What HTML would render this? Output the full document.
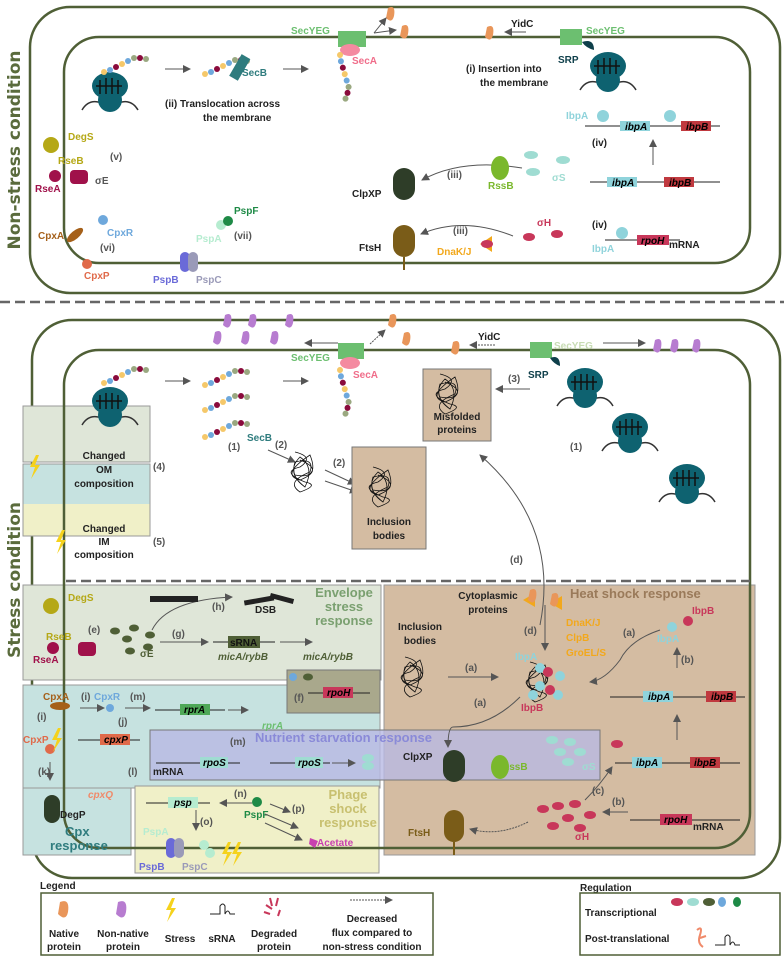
<!DOCTYPE html>
<html><head><meta charset="utf-8"><style>
html,body{margin:0;padding:0;background:#fff}
svg{display:block}
text{font-family:"Liberation Sans",sans-serif;font-weight:bold;font-size:10px}
</style></head><body>
<svg width="784" height="956" viewBox="0 0 784 956" xmlns="http://www.w3.org/2000/svg">
<defs>
<marker id="a" markerWidth="8" markerHeight="8" refX="7" refY="4" orient="auto"><path d="M0,0 L8,4 L0,8 z" fill="#555"/></marker>
<g id="rib"><path d="M-28,22 Q-22,12 -12,14 L12,14 Q22,12 28,22" fill="none" stroke="#333" stroke-width="1.5"/><circle cx="0" cy="12" r="12" fill="#0e6270"/><ellipse cx="0" cy="-2" rx="18" ry="14" fill="#0e6270"/><path d="M-10,-8 v14 M-4,-10 v16 M2,-10 v16 M8,-8 v14 M-14,-2 h26" stroke="#111" stroke-width="1.5" fill="none"/></g>
<g id="chain"><circle cx="0" cy="0" r="3" fill="#f5c86a"/><circle cx="6" cy="-2" r="3" fill="#6ea8dc"/><circle cx="12" cy="-5" r="3" fill="#8a0b3c"/><circle cx="18" cy="-8" r="3" fill="#f5c86a"/><circle cx="24" cy="-11" r="3" fill="#6ea8dc"/><circle cx="30" cy="-14" r="3" fill="#9aa880"/><circle cx="36" cy="-14" r="3" fill="#8a0b3c"/><circle cx="42" cy="-13" r="3" fill="#9aa880"/></g>
<g id="tangle" fill="none" stroke="#111" stroke-width="0.8"><path d="M-15,-18 q20,5 5,15 q-20,5 5,15 q15,3 -5,10 q-15,-10 10,-20 q5,-15 -15,-10 q-5,15 10,25 q10,-20 -5,-30 q-15,15 5,30"/><path d="M-10,-10 q25,10 0,20 q-20,-5 10,-25 q10,25 -15,20"/></g>
</defs>

<!-- side labels -->
<text transform="translate(20,150) rotate(-90)" text-anchor="middle" style="font-size:17px;fill:#5a6b3c;font-family:'DejaVu Sans',sans-serif">Non-stress condition</text>
<text transform="translate(20,580) rotate(-90)" text-anchor="middle" style="font-size:17px;fill:#5a6b3c;font-family:'DejaVu Sans',sans-serif">Stress condition</text>

<!-- NON-STRESS cell -->
<rect x="30" y="7" width="750" height="286" rx="40" fill="none" stroke="#4f5f36" stroke-width="2.5"/>
<rect x="64" y="37" width="686" height="226" rx="35" fill="none" stroke="#4f5f36" stroke-width="2.5"/>
<use href="#rib" x="110" y="88"/>
<use href="#chain" x="104" y="72"/>
<line x1="165" y1="69" x2="190" y2="69" stroke="#555" marker-end="url(#a)"/>
<use href="#chain" x="205" y="74"/>
<rect x="235" y="55" width="10" height="25" fill="#2f7c7e" transform="rotate(30 240 67)"/>
<text x="242" y="76" fill="#2f7c7e">SecB</text>
<line x1="283" y1="69" x2="308" y2="69" stroke="#555" marker-end="url(#a)"/>
<text x="165" y="107" fill="#222">(ii) Translocation across</text><text x="203" y="121" fill="#222">the membrane</text>
<rect x="338" y="31" width="28" height="16" fill="#6cbf70"/><ellipse cx="350" cy="50" rx="10" ry="6" fill="#f48aa0"/>
<text x="291" y="34" fill="#6cbf70">SecYEG</text><text x="352" y="64" fill="#f06d8a">SecA</text>
<g transform="translate(340,55) rotate(100)"><use href="#chain"/></g>
<path d="M388,8 q8,-4 6,8 q-2,8 -8,2z" fill="#e9965a"/><path d="M402,26 q8,-4 6,8 q-2,8 -8,2z" fill="#e9965a"/>
<line x1="374" y1="33" x2="386" y2="18" stroke="#555" marker-end="url(#a)"/><line x1="374" y1="33" x2="396" y2="30" stroke="#555" marker-end="url(#a)"/>
<text x="511" y="27" fill="#222">YidC</text><line x1="526" y1="32" x2="505" y2="32" stroke="#555" marker-end="url(#a)"/>
<path d="M487,27 q8,-4 6,8 q-2,8 -8,2z" fill="#e9965a"/>
<rect x="560" y="29" width="22" height="16" fill="#6cbf70"/><text x="586" y="34" fill="#6cbf70">SecYEG</text>
<path d="M582,42 q12,-4 12,8 q-8,-2 -12,-8z" fill="#0e3f4a"/><text x="558" y="63" fill="#0e3f4a">SRP</text>
<use href="#rib" x="608" y="68"/>
<text x="466" y="72" fill="#222">(i) Insertion into</text><text x="480" y="86" fill="#222">the membrane</text>
<!-- ibp -->
<text x="566" y="119" fill="#8fd3db">IbpA</text>
<line x1="585" y1="126" x2="720" y2="126" stroke="#222"/>
<rect x="620" y="121" width="30" height="10" fill="#8fd3db"/><text x="625" y="130" style="font-style:italic">ibpA</text>
<rect x="681" y="121" width="30" height="10" fill="#c0393f"/><text x="686" y="130" style="font-style:italic">ibpB</text>
<circle cx="603" cy="116" r="6" fill="#8fd3db"/><circle cx="670" cy="116" r="6" fill="#8fd3db"/>
<text x="592" y="146" fill="#222">(iv)</text>
<line x1="653" y1="165" x2="653" y2="140" stroke="#555" marker-end="url(#a)"/>
<line x1="590" y1="182" x2="720" y2="182" stroke="#222"/>
<rect x="607" y="177" width="30" height="10" fill="#8fd3db"/><text x="612" y="186" style="font-style:italic">ibpA</text>
<rect x="664" y="177" width="30" height="10" fill="#c0393f"/><text x="669" y="186" style="font-style:italic">ibpB</text>
<text x="592" y="228" fill="#222">(iv)</text>
<line x1="605" y1="240" x2="680" y2="240" stroke="#222"/>
<rect x="637" y="235" width="32" height="10" fill="#c8375a"/><text x="641" y="244" style="font-style:italic">rpoH</text>
<text x="669" y="248" fill="#222">mRNA</text>
<circle cx="622" cy="233" r="6" fill="#8fd3db"/><text x="592" y="252" fill="#8fd3db">IbpA</text>
<!-- ClpXP FtsH -->
<rect x="393" y="168" width="22" height="32" rx="11" fill="#2e3d28"/><text x="352" y="197" fill="#222">ClpXP</text>
<rect x="393" y="225" width="22" height="32" rx="11" fill="#7a5c18"/><line x1="404" y1="257" x2="404" y2="270" stroke="#7a5c18" stroke-width="2"/><text x="359" y="251" fill="#222">FtsH</text>
<path d="M522,168 q-60,-10 -100,12" fill="none" stroke="#555" marker-end="url(#a)"/><text x="447" y="178" fill="#555">(iii)</text>
<ellipse cx="500" cy="168" rx="9" ry="12" fill="#7ab82c"/><text x="488" y="189" fill="#7ab82c">RssB</text>
<ellipse cx="531" cy="155" rx="7" ry="4" fill="#9fdcd2"/><ellipse cx="533" cy="172" rx="7" ry="4" fill="#9fdcd2"/><ellipse cx="563" cy="160" rx="7" ry="4" fill="#9fdcd2"/><text x="552" y="181" fill="#9fdcd2">σS</text>
<path d="M513,236 q-50,-20 -92,-2" fill="none" stroke="#555" marker-end="url(#a)"/><text x="453" y="234" fill="#555">(iii)</text>
<path d="M480,244 l12,-8 v16z" fill="#f2a81c"/><text x="437" y="255" fill="#f2a81c">DnaK/J</text>
<ellipse cx="487" cy="244" rx="6" ry="4" fill="#c8375a"/><ellipse cx="529" cy="237" rx="6" ry="4" fill="#c8375a"/><ellipse cx="557" cy="234" rx="6" ry="4" fill="#c8375a"/><text x="537" y="226" fill="#c8375a">σH</text>
<!-- left -->
<circle cx="51" cy="145" r="8" fill="#b5a816"/><text x="68" y="140" fill="#b5a816">DegS</text><text x="58" y="164" fill="#b5a816">RseB</text>
<circle cx="55" cy="176" r="6" fill="#a0114a"/><rect x="70" y="170" width="18" height="14" rx="4" fill="#a0114a"/><text x="35" y="192" fill="#a0114a">RseA</text><text x="95" y="184" fill="#555">σE</text><text x="110" y="160" fill="#555">(v)</text>
<ellipse cx="75" cy="235" rx="10" ry="4" fill="#a5601a" transform="rotate(-40 75 235)"/><text x="38" y="239" fill="#a5601a">CpxA</text>
<circle cx="87" cy="264" r="5" fill="#e06a4a"/><text x="84" y="279" fill="#e06a4a">CpxP</text>
<circle cx="103" cy="220" r="5" fill="#6ea8dc"/><text x="107" y="236" fill="#6ea8dc">CpxR</text><text x="100" y="251" fill="#555">(vi)</text>
<circle cx="221" cy="225" r="5" fill="#b6ecd0"/><circle cx="228" cy="221" r="5" fill="#1e8a46"/><text x="234" y="214" fill="#1e8a46">PspF</text><text x="196" y="242" fill="#b6ecd0">PspA</text><text x="234" y="239" fill="#555">(vii)</text>
<rect x="180" y="252" width="10" height="20" rx="5" fill="#6a6ad8"/><rect x="188" y="252" width="10" height="20" rx="5" fill="#9a9ab8"/><text x="153" y="283" fill="#6a6ad8">PspB</text><text x="196" y="283" fill="#9a9ab8">PspC</text>

<!-- dashed -->
<line x1="0" y1="302" x2="784" y2="302" stroke="#666" stroke-width="2.5" stroke-dasharray="10,5"/>

<!-- STRESS cell -->
<rect x="32" y="320" width="748" height="558" rx="40" fill="none" stroke="#4f5f36" stroke-width="2.5"/>
<!-- boxes -->
<rect x="23" y="406" width="127" height="56" fill="#dfe6d8" stroke="#999"/>
<rect x="23" y="464" width="127" height="40" fill="#c6e2e0" stroke="none"/>
<rect x="23" y="504" width="127" height="32" fill="#f0f0c8" stroke="none"/>
<rect x="23" y="464" width="127" height="72" fill="none" stroke="#999"/>
<rect x="23" y="585" width="358" height="95" fill="#dfe6d8" stroke="#999"/>
<rect x="23" y="685" width="108" height="170" fill="#c6e2e0" stroke="#999"/>
<rect x="23" y="685" width="357" height="103" fill="#c6e2e0" stroke="#999"/>
<rect x="384" y="585" width="371" height="270" fill="#d4bca2" stroke="#999"/>
<rect x="135" y="786" width="244" height="87" fill="#f0f0c8" stroke="#999"/>
<rect x="287" y="670" width="93" height="43" fill="#a9a88c" stroke="#777"/>
<rect x="150" y="730" width="450" height="50" fill="#b8b9e4" fill-opacity="0.8" stroke="#777"/>
<rect x="64" y="350" width="686" height="498" rx="35" fill="none" stroke="#4f5f36" stroke-width="2.5"/>
<line x1="66" y1="581" x2="750" y2="581" stroke="#666" stroke-width="2.5" stroke-dasharray="10,5"/>
<text x="104" y="460" text-anchor="middle" fill="#222"><tspan x="104" y="459">Changed</tspan><tspan x="104" y="473">OM</tspan><tspan x="104" y="487">composition</tspan></text>
<text x="104" y="532" fill="#222" text-anchor="middle"><tspan x="104" y="532">Changed</tspan><tspan x="104" y="545">IM</tspan><tspan x="104" y="558">composition</tspan></text>
<text x="153" y="470" fill="#555">(4)</text><text x="153" y="545" fill="#555">(5)</text>
<path d="M36,455 l-6,12 h5 l-4,12 l9,-14 h-5 l4,-10z" fill="#f5d21c"/>
<path d="M62,530 l-6,12 h5 l-4,12 l9,-14 h-5 l4,-10z" fill="#f5d21c"/>
<!-- top stress content -->
<g fill="#b77cd0"><path d="M225,315 q8,-4 6,8 q-2,8 -8,2z"/><path d="M250,315 q8,-4 6,8 q-2,8 -8,2z"/><path d="M287,315 q8,-4 6,8 q-2,8 -8,2z"/><path d="M215,332 q8,-4 6,8 q-2,8 -8,2z"/><path d="M243,332 q8,-4 6,8 q-2,8 -8,2z"/><path d="M272,332 q8,-4 6,8 q-2,8 -8,2z"/><path d="M655,340 q8,-4 6,8 q-2,8 -8,2z"/><path d="M672,340 q8,-4 6,8 q-2,8 -8,2z"/><path d="M694,340 q8,-4 6,8 q-2,8 -8,2z"/></g>
<g fill="#e9965a"><path d="M390,315 q8,-4 6,8 q-2,8 -8,2z"/><path d="M404,333 q8,-4 6,8 q-2,8 -8,2z"/><path d="M453,342 q8,-4 6,8 q-2,8 -8,2z"/></g>
<line x1="338" y1="343" x2="305" y2="343" stroke="#555" marker-end="url(#a)"/>
<line x1="370" y1="344" x2="385" y2="330" stroke="#555" stroke-dasharray="2,1" marker-end="url(#a)"/>
<rect x="338" y="343" width="26" height="16" fill="#6cbf70"/><ellipse cx="350" cy="363" rx="10" ry="6" fill="#f48aa0"/>
<text x="291" y="361" fill="#6cbf70">SecYEG</text><text x="353" y="378" fill="#f06d8a">SecA</text>
<g transform="translate(340,370) rotate(100)"><use href="#chain"/></g>
<text x="478" y="340" fill="#222">YidC</text><line x1="495" y1="345" x2="470" y2="345" stroke="#555" stroke-dasharray="2,1" marker-end="url(#a)"/>
<rect x="530" y="342" width="22" height="16" fill="#6cbf70"/><text x="554" y="349" fill="#c8dcb4">SecYEG</text>
<line x1="603" y1="343" x2="645" y2="343" stroke="#555" marker-end="url(#a)"/>
<path d="M550,358 q10,-4 10,8 q-6,-2 -10,-8z" fill="#0e3f4a"/><text x="528" y="378" fill="#0e3f4a">SRP</text>
<use href="#rib" x="585" y="384"/><use href="#rib" x="630" y="429"/><use href="#rib" x="687" y="480"/>
<use href="#rib" x="110" y="403"/><use href="#chain" x="104" y="383"/>
<line x1="165" y1="381" x2="190" y2="381" stroke="#555" marker-end="url(#a)"/>
<use href="#chain" x="205" y="385"/><use href="#chain" x="205" y="410"/><use href="#chain" x="205" y="437"/>
<text x="247" y="441" fill="#2f7c7e">SecB</text><text x="228" y="450" fill="#555">(1)</text><text x="275" y="448" fill="#555">(2)</text>
<line x1="283" y1="381" x2="308" y2="381" stroke="#555" marker-end="url(#a)"/>
<line x1="268" y1="450" x2="295" y2="462" stroke="#555" marker-end="url(#a)"/>
<use href="#tangle" x="310" y="470"/>
<line x1="325" y1="470" x2="355" y2="484" stroke="#555" marker-end="url(#a)"/><line x1="325" y1="481" x2="357" y2="492" stroke="#555" marker-end="url(#a)"/><text x="333" y="466" fill="#555">(2)</text>
<rect x="352" y="447" width="74" height="102" fill="#d4bca2" stroke="#777"/>
<use href="#tangle" x="388" y="485"/>
<text x="389" y="525" text-anchor="middle" fill="#222"><tspan x="389" y="525">Inclusion</tspan><tspan x="389" y="539">bodies</tspan></text>
<rect x="423" y="369" width="68" height="72" fill="#d4bca2" stroke="#777"/>
<use href="#tangle" x="455" y="392"/>
<text x="457" y="420" text-anchor="middle" fill="#222"><tspan x="457" y="420">Misfolded</tspan><tspan x="457" y="433">proteins</tspan></text>
<line x1="530" y1="389" x2="496" y2="389" stroke="#555" marker-end="url(#a)"/><text x="508" y="382" fill="#555">(3)</text>
<text x="570" y="450" fill="#555">(1)</text>
<path d="M540,625 q20,-100 -60,-170" fill="none" stroke="#555" marker-end="url(#a)"/><text x="510" y="563" fill="#555">(d)</text>
<!-- Envelope stress -->
<text x="344" y="596" text-anchor="middle" fill="#7aa070" style="font-size:13px"><tspan x="344" y="597">Envelope</tspan><tspan x="344" y="611">stress</tspan><tspan x="344" y="625">response</tspan></text>
<circle cx="51" cy="606" r="8" fill="#b5a816"/><text x="68" y="601" fill="#b5a816">DegS</text><text x="46" y="640" fill="#b5a816">RseB</text>
<circle cx="53" cy="648" r="6" fill="#a0114a"/><rect x="78" y="642" width="18" height="14" rx="4" fill="#a0114a"/><text x="33" y="663" fill="#a0114a">RseA</text>
<text x="88" y="633" fill="#555">(e)</text>
<g fill="#4f5f36"><ellipse cx="115" cy="631" rx="5" ry="3.5"/><ellipse cx="134" cy="628" rx="5" ry="3.5"/><ellipse cx="127" cy="639" rx="5" ry="3.5"/><ellipse cx="150" cy="635" rx="5" ry="3.5"/><ellipse cx="130" cy="651" rx="5" ry="3.5"/><ellipse cx="148" cy="647" rx="5" ry="3.5"/></g>
<text x="140" y="657" fill="#4f5f36">σE</text>
<path d="M152,630 q15,-30 80,-33" fill="none" stroke="#555" marker-end="url(#a)"/><text x="212" y="610" fill="#555">(h)</text>
<rect x="150" y="596" width="48" height="6" fill="#222"/><rect x="244" y="598" width="30" height="5" fill="#222" transform="rotate(-10 259 600)"/><rect x="270" y="596" width="24" height="5" fill="#222" transform="rotate(15 282 598)"/><text x="255" y="613" fill="#222">DSB</text>
<line x1="160" y1="642" x2="208" y2="642" stroke="#555" marker-end="url(#a)"/><text x="172" y="637" fill="#555">(g)</text>
<line x1="213" y1="642" x2="275" y2="642" stroke="#222"/><rect x="228" y="636" width="32" height="12" fill="#4f5f36"/><text x="230" y="646" fill="#111">sRNA</text>
<line x1="280" y1="642" x2="312" y2="642" stroke="#555" marker-end="url(#a)"/>
<text x="218" y="660" fill="#4f5f36" style="font-style:italic">micA/rybB</text><text x="303" y="660" fill="#4f5f36" style="font-style:italic">micA/rybB</text>
<!-- f box -->
<circle cx="293" cy="677" r="4" fill="#6ea8dc"/><ellipse cx="308" cy="677" rx="5" ry="3.5" fill="#4f5f36"/><text x="294" y="701" fill="#555">(f)</text>
<line x1="308" y1="693" x2="370" y2="693" stroke="#222"/><rect x="323" y="687" width="30" height="11" fill="#c8375a"/><text x="327" y="696" style="font-style:italic">rpoH</text>
<!-- Cpx -->
<ellipse cx="60" cy="706" rx="10" ry="4" fill="#a5601a"/><text x="43" y="700" fill="#a5601a">CpxA</text>
<text x="81" y="700" fill="#555">(i)</text><text x="94" y="700" fill="#6ea8dc">CpxR</text><circle cx="110" cy="708" r="4" fill="#6ea8dc"/><text x="130" y="700" fill="#555">(m)</text>
<line x1="80" y1="708" x2="104" y2="708" stroke="#555" marker-end="url(#a)"/><line x1="125" y1="708" x2="150" y2="708" stroke="#555" marker-end="url(#a)"/>
<line x1="155" y1="710" x2="225" y2="710" stroke="#222"/><rect x="180" y="704" width="30" height="11" fill="#4fa858"/><text x="184" y="713" style="font-style:italic">rprA</text>
<line x1="228" y1="710" x2="248" y2="710" stroke="#555" marker-end="url(#a)"/>
<text x="262" y="729" fill="#6cbf70" style="font-style:italic">rprA</text>
<text x="37" y="720" fill="#555">(i)</text><text x="118" y="725" fill="#555">(j)</text>
<text x="23" y="743" fill="#e06a4a">CpxP</text><circle cx="50" cy="749" r="5" fill="#e06a4a"/>
<line x1="78" y1="740" x2="140" y2="740" stroke="#222"/><rect x="100" y="734" width="30" height="11" fill="#e06a4a"/><text x="104" y="743" style="font-style:italic">cpxP</text>
<path d="M58,728 l-6,12 h5 l-4,12 l9,-14 h-5 l4,-10z" fill="#f5d21c"/>
<text x="38" y="775" fill="#555">(k)</text><line x1="50" y1="762" x2="50" y2="780" stroke="#555" marker-end="url(#a)"/>
<rect x="44" y="795" width="16" height="28" rx="8" fill="#2e3d28"/><text x="60" y="818" fill="#222">DegP</text>
<text x="128" y="775" fill="#555">(l)</text><text x="88" y="798" fill="#f08a6a" style="font-style:italic">cpxQ</text>
<text x="65" y="836" fill="#2f7c7e" style="font-size:13px">Cpx</text><text x="50" y="850" fill="#2f7c7e" style="font-size:13px">response</text>
<!-- nutrient -->
<text x="255" y="742" fill="#8a8ad8" style="font-size:13px">Nutrient starvation response</text>
<text x="230" y="745" fill="#555">(m)</text>
<line x1="156" y1="763" x2="240" y2="763" stroke="#222"/><rect x="200" y="757" width="28" height="11" fill="#9fdcd2"/><text x="203" y="766" style="font-style:italic">rpoS</text><text x="153" y="775" fill="#222">mRNA</text>
<line x1="270" y1="763" x2="330" y2="763" stroke="#222"/><rect x="295" y="757" width="28" height="11" fill="#9fdcd2"/><text x="298" y="766" style="font-style:italic">rpoS</text>
<line x1="332" y1="763" x2="355" y2="763" stroke="#555" marker-end="url(#a)"/>
<ellipse cx="368" cy="758" rx="6" ry="4" fill="#9fdcd2"/><ellipse cx="368" cy="766" rx="6" ry="4" fill="#9fdcd2"/>
<!-- phage -->
<text x="348" y="799" text-anchor="middle" fill="#c8c070" style="font-size:13px"><tspan x="348" y="799">Phage</tspan><tspan x="348" y="813">shock</tspan><tspan x="348" y="827">response</tspan></text>
<line x1="146" y1="803" x2="210" y2="803" stroke="#222"/><rect x="168" y="797" width="30" height="11" fill="#b6ecd0"/><text x="174" y="806" style="font-style:italic">psp</text>
<line x1="252" y1="803" x2="220" y2="803" stroke="#555" marker-end="url(#a)"/><text x="234" y="797" fill="#555">(n)</text>
<circle cx="257" cy="802" r="5" fill="#1e8a46"/><text x="244" y="818" fill="#1e8a46">PspF</text>
<line x1="270" y1="804" x2="290" y2="812" stroke="#555" marker-end="url(#a)"/><text x="292" y="812" fill="#555">(p)</text>
<line x1="265" y1="814" x2="298" y2="828" stroke="#555" marker-end="url(#a)"/><line x1="265" y1="823" x2="302" y2="840" stroke="#555" marker-end="url(#a)"/>
<path d="M310,838 l8,3 l-3,7 l-6,-4z" fill="#c840b0"/><text x="317" y="846" fill="#c840b0">Acetate</text>
<line x1="196" y1="810" x2="196" y2="830" stroke="#555" marker-end="url(#a)"/><text x="200" y="825" fill="#555">(o)</text>
<text x="143" y="835" fill="#b6ecd0">PspA</text>
<rect x="166" y="838" width="10" height="20" rx="5" fill="#6a6ad8"/><rect x="174" y="838" width="10" height="20" rx="5" fill="#9a9ab8"/><circle cx="204" cy="845" r="5" fill="#b6ecd0"/><circle cx="210" cy="853" r="5" fill="#b6ecd0"/>
<text x="139" y="870" fill="#6a6ad8">PspB</text><text x="182" y="870" fill="#9a9ab8">PspC</text>
<path d="M228,842 l-6,12 h5 l-4,12 l9,-14 h-5 l4,-10z" fill="#f5d21c"/><path d="M238,842 l-6,12 h5 l-4,12 l9,-14 h-5 l4,-10z" fill="#f5d21c"/>
<!-- heat shock -->
<text x="570" y="598" fill="#9a7a5a" style="font-size:13px">Heat shock response</text>
<text x="488" y="599" text-anchor="middle" fill="#222"><tspan x="488" y="599">Cytoplasmic</tspan><tspan x="488" y="613">proteins</tspan></text>
<text x="420" y="630" text-anchor="middle" fill="#222"><tspan x="420" y="630">Inclusion</tspan><tspan x="420" y="644">bodies</tspan></text>
<use href="#tangle" x="420" y="675"/>
<line x1="448" y1="677" x2="498" y2="677" stroke="#555" marker-end="url(#a)"/><text x="465" y="671" fill="#555">(a)</text>
<line x1="545" y1="605" x2="545" y2="650" stroke="#555" marker-end="url(#a)"/><text x="524" y="634" fill="#555">(d)</text>
<path d="M523,600 l12,-7 v14z" fill="#f2a81c"/><path d="M550,603 l12,-7 v14z" fill="#f2a81c"/>
<path d="M530,590 q8,-4 6,8 q-2,8 -8,2z" fill="#e9965a"/><path d="M552,594 q8,-4 6,8 q-2,8 -8,2z" fill="#e9965a"/>
<text x="566" y="626" fill="#f2a81c"><tspan x="566" y="626">DnaK/J</tspan><tspan x="566" y="641">ClpB</tspan><tspan x="566" y="656">GroEL/S</tspan></text>
<text x="515" y="660" fill="#8fd3db">IbpA</text>
<use href="#tangle" x="545" y="680"/>
<g><circle cx="540" cy="668" r="5" fill="#8fd3db"/><circle cx="560" cy="676" r="5" fill="#8fd3db"/><circle cx="540" cy="686" r="5" fill="#8fd3db"/><circle cx="558" cy="695" r="5" fill="#8fd3db"/><circle cx="548" cy="672" r="5" fill="#c8375a"/><circle cx="550" cy="690" r="5" fill="#c8375a"/><circle cx="533" cy="695" r="5" fill="#8fd3db"/></g>
<text x="521" y="711" fill="#c8375a">IbpB</text>
<path d="M520,697 q-30,30 -67,30 q-5,0 -5,20" fill="none" stroke="#555" marker-end="url(#a)"/><text x="474" y="706" fill="#555">(a)</text>
<path d="M660,630 q-30,10 -40,30 q-15,20 -30,22" fill="none" stroke="#555" marker-end="url(#a)"/><text x="623" y="636" fill="#555">(a)</text>
<circle cx="672" cy="627" r="5" fill="#8fd3db"/><circle cx="688" cy="621" r="5" fill="#c8375a"/><text x="657" y="642" fill="#8fd3db">IbpA</text><text x="692" y="614" fill="#c8375a">IbpB</text>
<line x1="677" y1="668" x2="677" y2="648" stroke="#555" marker-end="url(#a)"/><text x="681" y="663" fill="#555">(b)</text>
<line x1="610" y1="697" x2="745" y2="697" stroke="#222"/><rect x="643" y="691" width="30" height="11" fill="#8fd3db"/><text x="648" y="700" style="font-style:italic">ibpA</text><rect x="706" y="691" width="30" height="11" fill="#c0393f"/><text x="711" y="700" style="font-style:italic">ibpB</text>
<line x1="677" y1="740" x2="677" y2="715" stroke="#555" marker-end="url(#a)"/>
<line x1="615" y1="763" x2="740" y2="763" stroke="#222"/><rect x="632" y="757" width="30" height="11" fill="#8fd3db"/><text x="636" y="766" style="font-style:italic">ibpA</text><rect x="690" y="757" width="30" height="11" fill="#c0393f"/><text x="694" y="766" style="font-style:italic">ibpB</text>
<ellipse cx="617" cy="744" rx="6" ry="4" fill="#c8375a"/>
<rect x="443" y="750" width="22" height="32" rx="11" fill="#2e3d28"/><text x="403" y="760" fill="#222">ClpXP</text>
<ellipse cx="500" cy="767" rx="9" ry="12" fill="#7ab82c"/><text x="502" y="770" fill="#7ab82c">RssB</text>
<g fill="#9fdcd2"><ellipse cx="552" cy="740" rx="6" ry="4"/><ellipse cx="570" cy="742" rx="6" ry="4"/><ellipse cx="560" cy="752" rx="6" ry="4"/><ellipse cx="580" cy="752" rx="6" ry="4"/><ellipse cx="568" cy="762" rx="6" ry="4"/></g><text x="582" y="770" fill="#9fdcd2">σS</text>
<rect x="444" y="810" width="20" height="32" rx="10" fill="#7a5c18"/><line x1="454" y1="842" x2="454" y2="855" stroke="#7a5c18" stroke-width="2"/><text x="408" y="836" fill="#7a5c18">FtsH</text>
<path d="M528,822 q-30,15 -58,7" fill="none" stroke="#555" stroke-dasharray="2,1" marker-end="url(#a)"/>
<g fill="#c8375a"><ellipse cx="543" cy="809" rx="6" ry="4"/><ellipse cx="558" cy="806" rx="6" ry="4"/><ellipse cx="575" cy="804" rx="6" ry="4"/><ellipse cx="568" cy="818" rx="6" ry="4"/><ellipse cx="590" cy="815" rx="6" ry="4"/><ellipse cx="553" cy="826" rx="6" ry="4"/><ellipse cx="580" cy="828" rx="6" ry="4"/></g><text x="575" y="840" fill="#c8375a">σH</text>
<path d="M585,800 q15,-15 27,-33" fill="none" stroke="#555" marker-end="url(#a)"/><text x="592" y="794" fill="#555">(c)</text>
<line x1="628" y1="812" x2="603" y2="812" stroke="#555" marker-end="url(#a)"/><text x="612" y="805" fill="#555">(b)</text>
<line x1="630" y1="820" x2="740" y2="820" stroke="#222"/><rect x="660" y="814" width="32" height="11" fill="#c8375a"/><text x="664" y="823" style="font-style:italic">rpoH</text><text x="693" y="830" fill="#222">mRNA</text>
<!-- legends -->
<text x="40" y="889" fill="#222">Legend</text>
<rect x="41" y="893" width="392" height="62" fill="#fff" stroke="#4f5f36" stroke-width="1.5"/>
<path d="M60,902 q10,-4 8,10 q-2,10 -10,2z" fill="#e9965a"/><text x="64" y="937" text-anchor="middle" fill="#222"><tspan x="64" y="937">Native</tspan><tspan x="64" y="950">protein</tspan></text>
<path d="M118,902 q10,-4 8,10 q-2,10 -10,2z" fill="#b77cd0"/><text x="123" y="937" text-anchor="middle" fill="#222"><tspan x="123" y="937">Non-native</tspan><tspan x="123" y="950">protein</tspan></text>
<path d="M172,898 l-6,12 h5 l-4,12 l9,-14 h-5 l4,-10z" fill="#f5d21c"/><text x="180" y="942" text-anchor="middle" fill="#222">Stress</text>
<path d="M210,914 h10 v-8 q3,-4 5,0 v8 q3,-6 5,0 h5" fill="none" stroke="#222"/><text x="222" y="942" text-anchor="middle" fill="#222">sRNA</text>
<path d="M266,905 l6,4 M270,898 l2,8 M278,898 l-2,8 M264,912 l6,2 M280,910 l-2,6" stroke="#c8375a" stroke-width="2"/><text x="274" y="937" text-anchor="middle" fill="#222"><tspan x="274" y="937">Degraded</tspan><tspan x="274" y="950">protein</tspan></text>
<line x1="350" y1="900" x2="392" y2="900" stroke="#555" stroke-dasharray="2,1" marker-end="url(#a)"/>
<text x="372" y="922" text-anchor="middle" fill="#222"><tspan x="372" y="922">Decreased</tspan><tspan x="372" y="936">flux compared to</tspan><tspan x="372" y="950">non-stress condition</tspan></text>
<text x="580" y="891" fill="#222">Regulation</text>
<rect x="580" y="893" width="200" height="62" fill="#fff" stroke="#4f5f36" stroke-width="1.5"/>
<text x="585" y="916" fill="#222">Transcriptional</text><text x="585" y="942" fill="#222">Post-translational</text>
<ellipse cx="677" cy="902" rx="6" ry="4" fill="#c8375a"/><ellipse cx="693" cy="902" rx="6" ry="4" fill="#9fdcd2"/><ellipse cx="709" cy="902" rx="6" ry="4" fill="#4f5f36"/><ellipse cx="722" cy="902" rx="4" ry="5" fill="#6ea8dc"/><ellipse cx="737" cy="902" rx="4" ry="5" fill="#1e8a46"/>
<path d="M697,930 q6,-5 3,5 q-3,8 3,12 M700,938 l6,-2" fill="none" stroke="#f08a6a" stroke-width="2"/>
<path d="M715,945 h10 v-8 q3,-4 5,0 v8 q3,-6 5,0 h5" fill="none" stroke="#222"/>
</svg>
</body></html>
